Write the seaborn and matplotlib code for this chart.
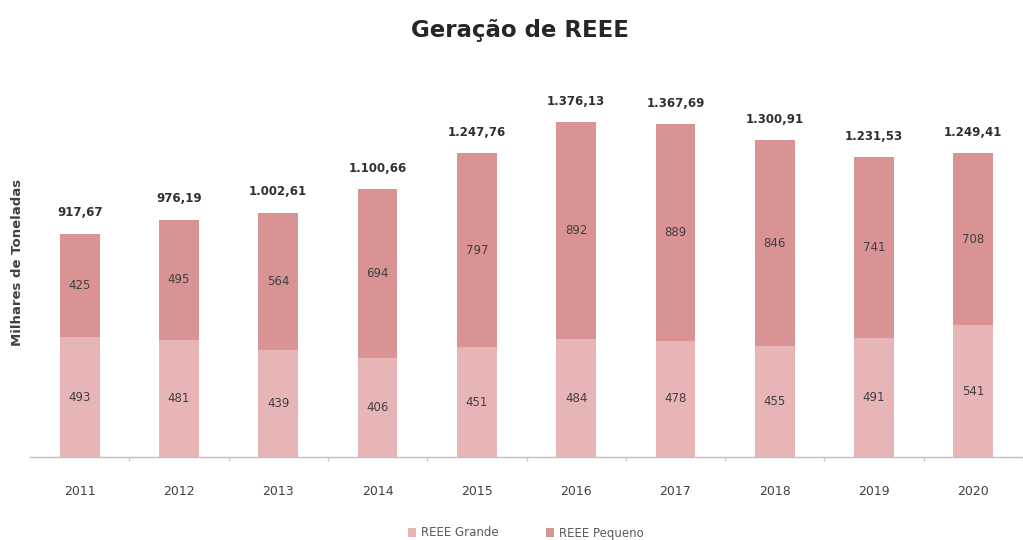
import matplotlib
matplotlib.use("Agg")
import matplotlib.pyplot as plt
from matplotlib.patches import Patch
import seaborn as sns
import pandas as pd

# ---- data ----
anos = ["2011", "2012", "2013", "2014", "2015", "2016", "2017", "2018", "2019", "2020"]
reee_grande = [493, 481, 439, 406, 451, 484, 478, 455, 491, 541]
reee_pequeno = [425, 495, 564, 694, 797, 892, 889, 846, 741, 708]
totais = [917.67, 976.19, 1002.61, 1100.66, 1247.76, 1376.13, 1367.69, 1300.91, 1231.53, 1249.41]

titulo = "Geração de REEE"
ylabel = "Milhares de Toneladas"
serie_nomes = ["REEE Grande", "REEE Pequeno"]

# ---- style ----
sns.set_theme(style="white")
plt.rcParams["font.family"] = ["DejaVu Sans"]

c_grande = "#e8b5b6"
c_pequeno = "#d99394"
txt_dark = "#404040"

df = pd.DataFrame({"ano": anos, "grande": reee_grande, "pequeno": reee_pequeno})
df["topo"] = df["grande"] + df["pequeno"]

fig = plt.figure(figsize=(10.23, 5.4), dpi=100)
ax = fig.add_axes([30 / 1023, 83 / 540, 1 - 30 / 1023, 365 / 540])

sns.barplot(data=df, x="ano", y="topo", color=c_pequeno, saturation=1, width=0.4, ax=ax,
            order=anos, linewidth=0, edgecolor="none")
sns.barplot(data=df, x="ano", y="grande", color=c_grande, saturation=1, width=0.4, ax=ax,
            order=anos, linewidth=0, edgecolor="none")

ax.set_xlim(-0.5, 9.37)
ax.set_ylim(0, 1500)


def fmt_pt(v):
    s = f"{v:,.2f}"
    return s.replace(",", "X").replace(".", ",").replace("X", ".")


for i, (g, p, t) in enumerate(zip(reee_grande, reee_pequeno, totais)):
    ax.text(i, g / 2, f"{g}", ha="center", va="center", fontsize=8.5, color=txt_dark)
    ax.text(i, g + p / 2, f"{p}", ha="center", va="center", fontsize=8.5, color=txt_dark)
    ax.annotate(fmt_pt(t), xy=(i, g + p), xytext=(0, 21), textcoords="offset pixels",
                ha="center", va="center", fontsize=8.5, fontweight="bold", color="#303030")

# axes styling
for s in ["top", "right", "left"]:
    ax.spines[s].set_visible(False)
ax.spines["bottom"].set_color("#c0c0c0")
ax.spines["bottom"].set_linewidth(1.0)
ax.set_yticks([])
ax.set_xlabel("")
ax.set_ylabel("")
ax.tick_params(axis="x", which="major", length=0, pad=20, labelsize=9, labelcolor=txt_dark)
ax.set_xticks([i + 0.5 for i in range(0, 10)], minor=True)
ax.tick_params(axis="x", which="minor", bottom=True, length=3, width=1, color="#cccccc",
               direction="out")

fig.text(18 / 1023, 1 - 262 / 540, ylabel, rotation=90, ha="center", va="center",
         fontsize=9.5, fontweight="bold", color=txt_dark)
fig.text(520 / 1023, 1 - 31 / 540, titulo, ha="center", va="center",
         fontsize=16.5, fontweight="bold", color="#262626")

handles = [Patch(facecolor=c_grande, edgecolor="none"), Patch(facecolor=c_pequeno, edgecolor="none")]
fig.legend(handles, serie_nomes, loc="center", bbox_to_anchor=(526 / 1023, 1 - 533 / 540),
           ncol=2, frameon=False, fontsize=8.5, handlelength=0.7, handleheight=0.7,
           handletextpad=0.4, columnspacing=4, labelcolor="#595959")

fig.savefig("out.png", dpi=100)
